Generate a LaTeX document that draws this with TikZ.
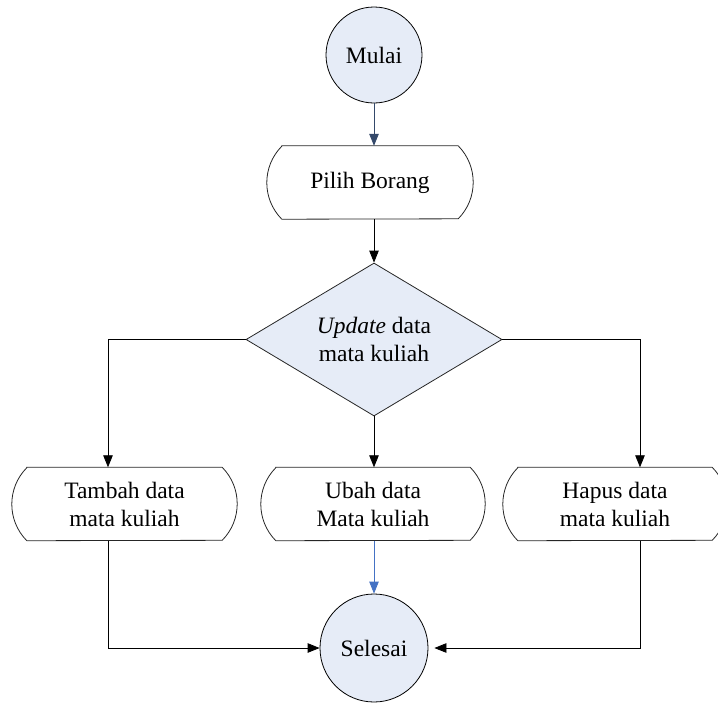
\documentclass[tikz,border=0pt]{standalone}
\usepackage{fontspec}
\setmainfont{Liberation Serif}
\usetikzlibrary{shapes.geometric,arrows.meta,calc}

\definecolor{termfill}{HTML}{E6ECF7}
\definecolor{startline}{HTML}{34496A}
\definecolor{endline}{HTML}{4472C4}

% radius and half-angle of the curved sides of the display boxes
\newcommand\dispRad{51.9pt}
\newcommand\dispAng{44.7}

% outline of a display box: flat top and bottom, bulging sides
\newcommand\dispOutline[1]{%
  \draw[boxline] ([xshift=15pt]#1.north west) -- ([xshift=-15pt]#1.north east)
    arc[start angle=\dispAng, end angle=-\dispAng, radius=\dispRad]
    -- ([xshift=15pt]#1.south west)
    arc[start angle=180+\dispAng, end angle=180-\dispAng, radius=\dispRad]
    -- cycle;}

\begin{document}
\begin{tikzpicture}[x=1pt,y=1pt,
  every node/.style={font=\fontsize{23.5}{28}\selectfont, align=center},
  terminal/.style={circle, draw=black, line width=0.8pt, fill=termfill, inner sep=0pt},
  dispbox/.style={rectangle, draw=none, minimum width=#1, minimum height=73pt, inner sep=0pt},
  boxline/.style={draw=black!85, line width=0.8pt},
  decision/.style={diamond, draw=black!85, line width=0.8pt, fill=termfill,
    minimum width=256pt, minimum height=153pt, shape aspect=1.67, inner sep=0pt},
  flow/.style={line width=0.8pt, draw=black, -{Triangle[length=12pt,width=9.5pt]}}]

\useasboundingbox (0,0) rectangle (718,-702);
\clip (0,0) rectangle (718,-702);

% nodes
\node[terminal, minimum size=96pt] (mulai) at (374,-55) {Mulai};
\node[dispbox=206pt] (pilih) at (370,-182.5) {Pilih Borang};
\dispOutline{pilih}
\node[decision] (update) at (374,-339.5) {\textit{Update} data\\mata kuliah};
\node[dispbox=225pt] (tambah) at (124.5,-504) {Tambah data\\mata kuliah};
\dispOutline{tambah}
\node[dispbox=224pt] (ubah) at (373,-504) {Ubah data\\Mata kuliah};
\dispOutline{ubah}
\node[dispbox=224pt] (hapus) at (615,-504) {Hapus data\\mata kuliah};
\dispOutline{hapus}
\node[terminal, minimum size=108pt] (selesai) at (374,-648) {Selesai};

% connectors
\draw[flow, draw=startline] (mulai.south) -- (mulai.south |- pilih.north);
\draw[flow] (pilih.south -| update.north) -- (update.north);
\draw[flow] (update.west) -| ([xshift=-16.5pt]tambah.north);
\draw[flow] (update.south) -- (update.south |- ubah.north);
\draw[flow] (update.east) -| ([xshift=25pt]hapus.north);
\draw[flow] ([xshift=-16.5pt]tambah.south) |- (selesai.west);
\draw[flow, draw=endline] (ubah.south -| selesai.north) -- (selesai.north);
\draw[flow, shorten >=6pt] ([xshift=25pt]hapus.south) |- (selesai.east);
\end{tikzpicture}
\end{document}
